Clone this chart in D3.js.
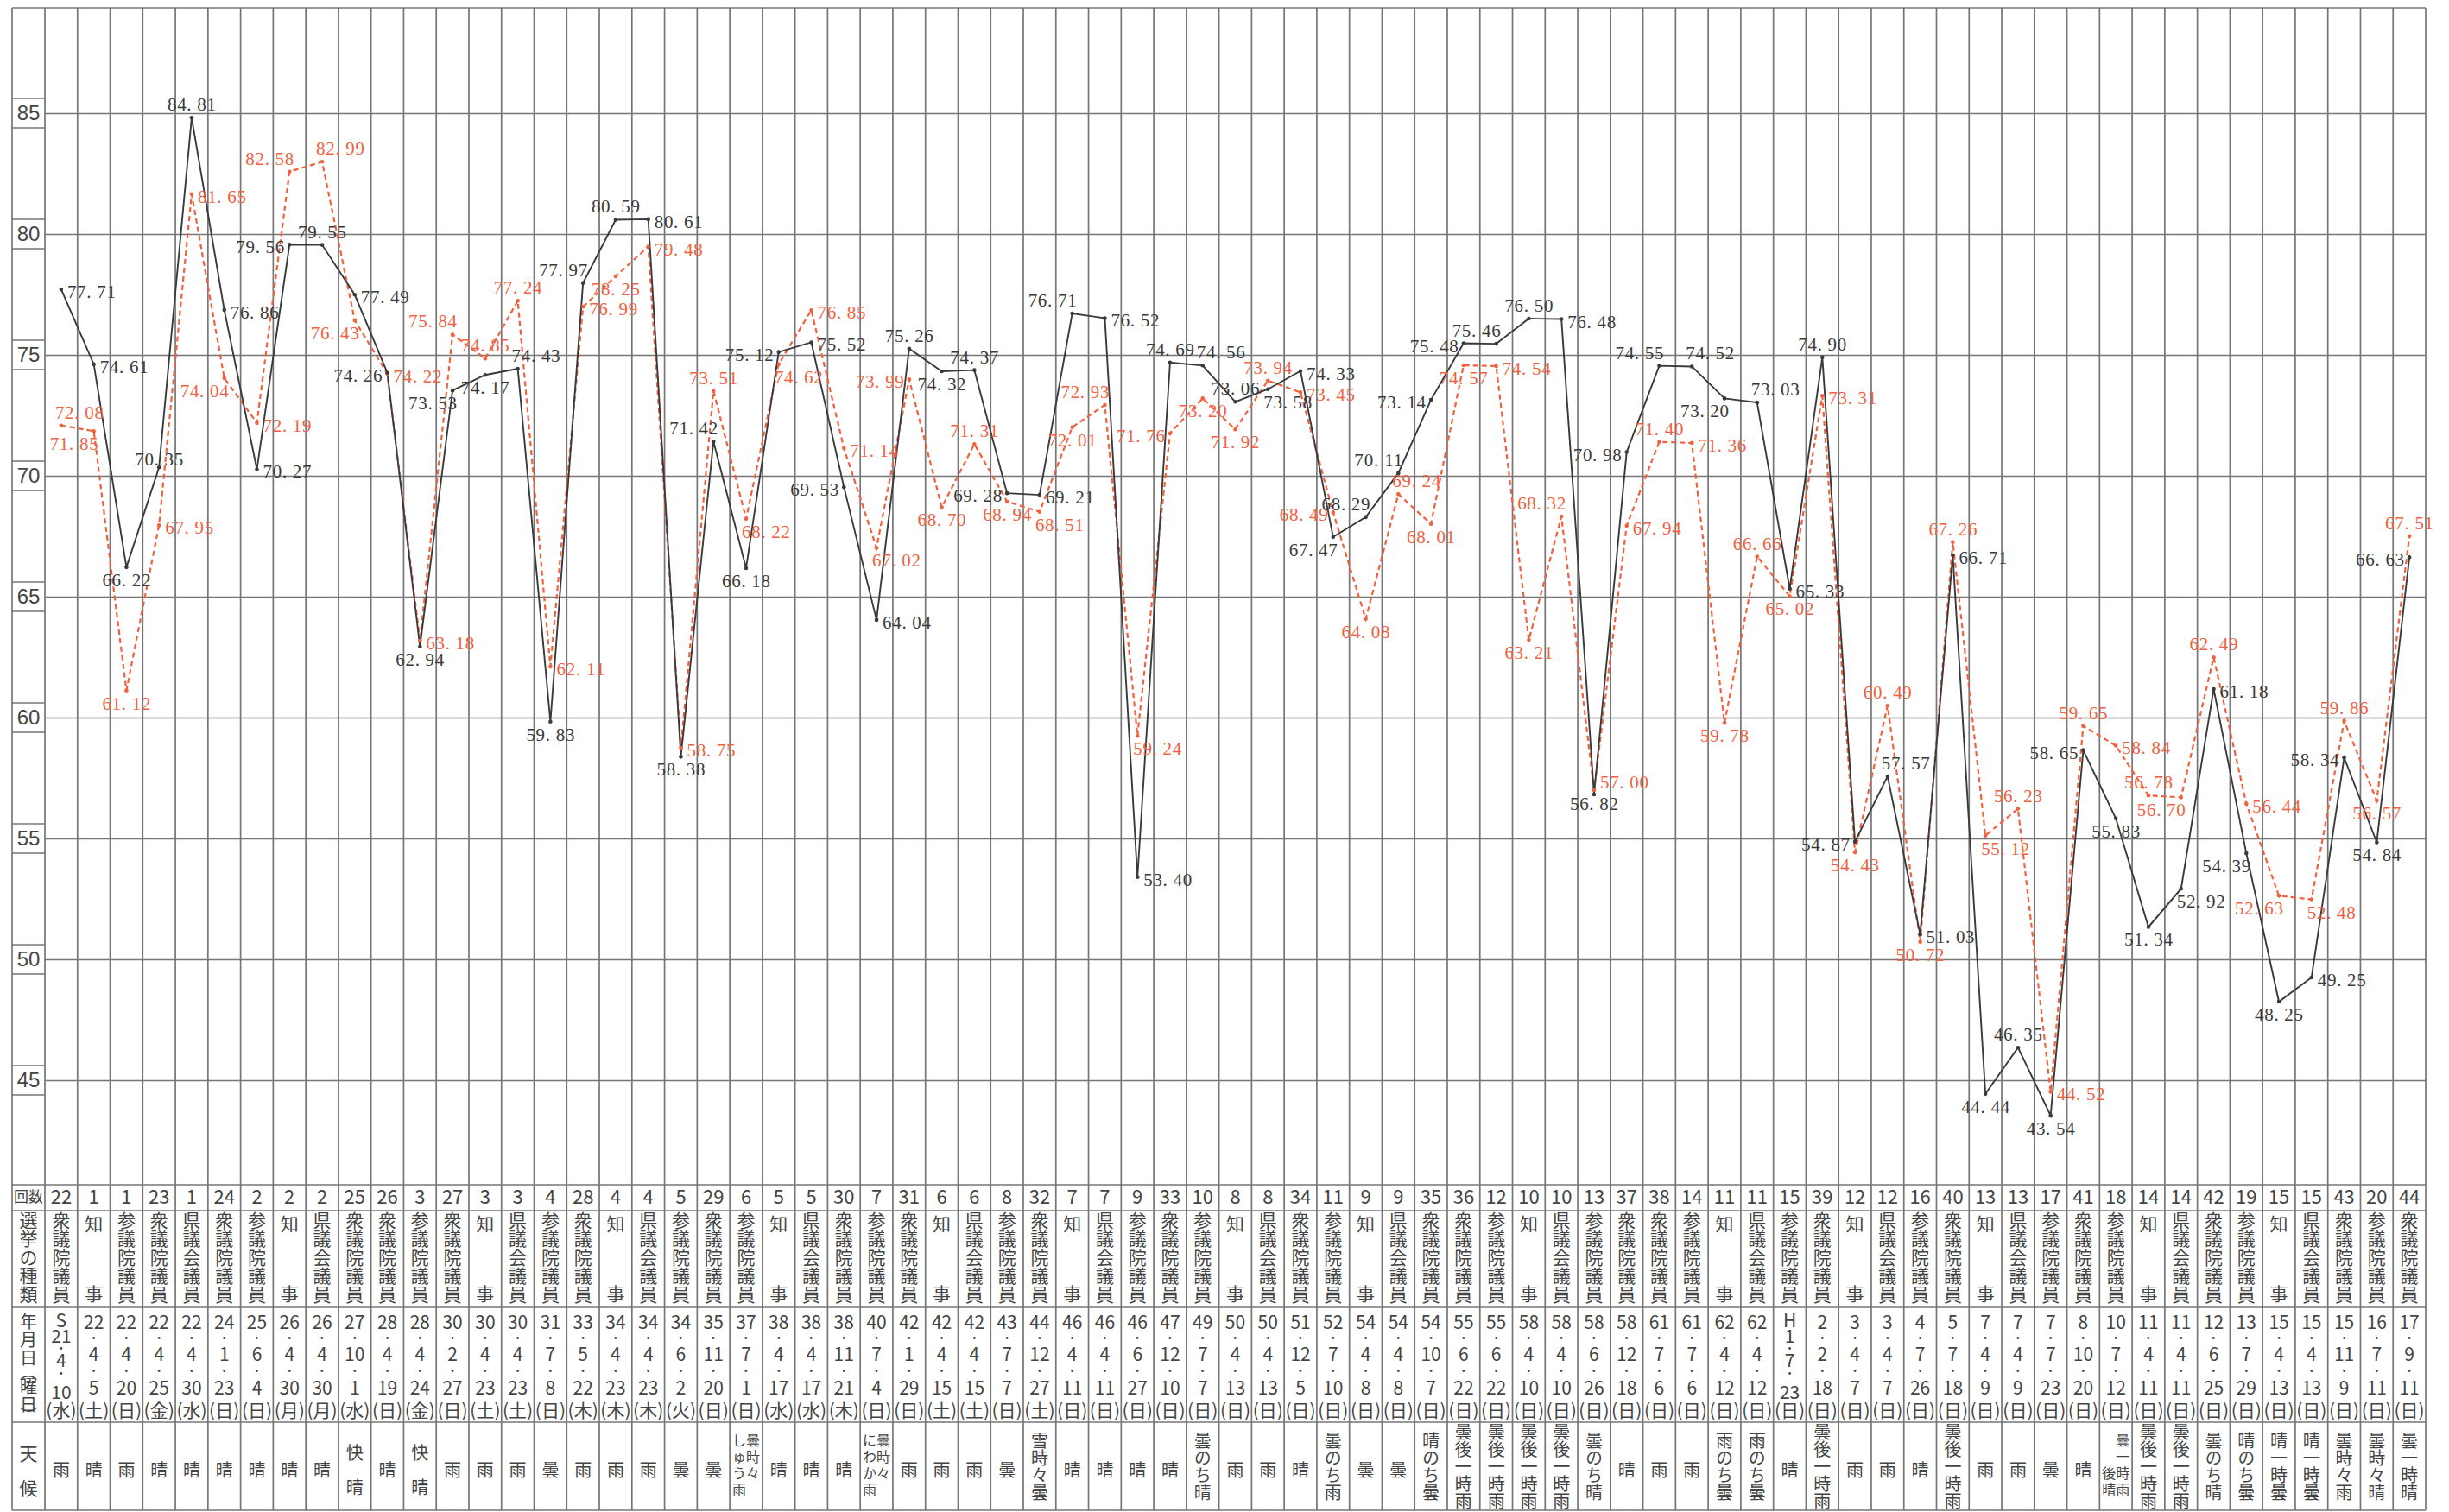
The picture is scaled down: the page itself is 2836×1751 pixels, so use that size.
<!DOCTYPE html>
<html><head><meta charset="utf-8">
<script src="https://cdn.jsdelivr.net/npm/d3@7"></script>
<style>html,body{margin:0;padding:0;background:#fff;} svg{display:block}</style>
</head><body>
<script>
// ---------------- data ----------------
const counts = [22,1,1,23,1,24,2,2,2,25,26,3,27,3,3,4,28,4,4,5,29,6,5,5,30,7,31,6,6,8,32,7,7,9,33,10,8,8,34,11,9,9,35,36,12,10,10,13,37,38,14,11,11,15,39,12,12,16,40,13,13,17,41,18,14,14,42,19,15,15,43,20,44];
const kinds = ["衆議院議員","知事","参議院議員","衆議院議員","県議会議員","衆議院議員","参議院議員","知事","県議会議員","衆議院議員",
 "衆議院議員","参議院議員","衆議院議員","知事","県議会議員","参議院議員","衆議院議員","知事","県議会議員","参議院議員",
 "衆議院議員","参議院議員","知事","県議会議員","衆議院議員","参議院議員","衆議院議員","知事","県議会議員","参議院議員",
 "衆議院議員","知事","県議会議員","参議院議員","衆議院議員","参議院議員","知事","県議会議員","衆議院議員","参議院議員",
 "知事","県議会議員","衆議院議員","衆議院議員","参議院議員","知事","県議会議員","参議院議員","衆議院議員","衆議院議員",
 "参議院議員","知事","県議会議員","参議院議員","衆議院議員","知事","県議会議員","参議院議員","衆議院議員","知事",
 "県議会議員","参議院議員","衆議院議員","参議院議員","知事","県議会議員","衆議院議員","参議院議員","知事","県議会議員",
 "衆議院議員","参議院議員","衆議院議員"];
const dates = ["S21.4.10","22.4.5","22.4.20","22.4.25","22.4.30","24.1.23","25.6.4","26.4.30","26.4.30","27.10.1",
 "28.4.19","28.4.24","30.2.27","30.4.23","30.4.23","31.7.8","33.5.22","34.4.23","34.4.23","34.6.2",
 "35.11.20","37.7.1","38.4.17","38.4.17","38.11.21","40.7.4","42.1.29","42.4.15","42.4.15","43.7.7",
 "44.12.27","46.4.11","46.4.11","46.6.27","47.12.10","49.7.7","50.4.13","50.4.13","51.12.5","52.7.10",
 "54.4.8","54.4.8","54.10.7","55.6.22","55.6.22","58.4.10","58.4.10","58.6.26","58.12.18","61.7.6",
 "61.7.6","62.4.12","62.4.12","H1.7.23","2.2.18","3.4.7","3.4.7","4.7.26","5.7.18","7.4.9",
 "7.4.9","7.7.23","8.10.20","10.7.12","11.4.11","11.4.11","12.6.25","13.7.29","15.4.13","15.4.13",
 "15.11.9","16.7.11","17.9.11"];
const weekdays = ["水","土","日","金","水","日","日","月","月","水","日","金","日","土","土","日","木","木","木","火",
 "日","日","水","水","木","日","日","土","土","日","土","日","日","日","日","日","日","日","日","日",
 "日","日","日","日","日","日","日","日","日","日","日","日","日","日","日","日","日","日","日","日",
 "日","日","日","日","日","日","日","日","日","日","日","日","日"];
const weather = ["雨","晴","雨","晴","晴","晴","晴","晴","晴","快晴","晴","快晴","雨","雨","雨","曇","雨","雨","雨","曇",
 "曇","曇時々|しゅう雨","晴","晴","晴","曇時々|にわか雨","雨","雨","雨","曇","雪時々曇","晴","晴","晴","晴","曇のち晴","雨","雨","晴","曇のち雨",
 "曇","曇","晴のち曇","曇後一時雨","曇後一時雨","曇後一時雨","曇後一時雨","曇のち晴","晴","雨","雨","雨のち曇","雨のち曇","晴","曇後一時雨","雨","雨","晴","曇後一時雨","雨",
 "雨","曇","晴","曇一時雨|後晴","曇後一時雨","曇後一時雨","曇のち晴","晴のち曇","晴一時曇","晴一時曇","曇時々雨","曇時々晴","曇一時晴"];
const turnoutBlack = [77.71,74.61,66.22,70.35,84.81,76.86,70.27,79.56,79.55,77.49,
 74.26,62.94,73.53,74.17,74.43,59.83,77.97,80.59,80.61,58.38,
 71.42,66.18,75.12,75.52,69.53,64.04,75.26,74.32,74.37,69.28,
 69.21,76.71,76.52,53.40,74.69,74.56,73.06,73.58,74.33,67.47,
 68.29,70.11,73.14,75.48,75.46,76.50,76.48,56.82,70.98,74.55,
 74.52,73.20,73.03,65.33,74.90,54.87,57.57,51.03,66.71,44.44,
 46.35,43.54,58.65,55.83,51.34,52.92,61.18,54.39,48.25,49.25,
 58.34,54.84,66.63];
const turnoutRed = [72.08,71.85,61.12,67.95,81.65,74.04,72.19,82.58,82.99,76.43,
 74.22,63.18,75.84,74.85,77.24,62.11,76.99,78.25,79.48,58.75,
 73.51,68.22,74.62,76.85,71.14,67.02,73.99,68.70,71.31,68.94,
 68.51,72.01,72.93,59.24,71.76,73.20,71.92,73.94,73.45,68.49,
 64.08,69.24,68.01,74.57,74.54,63.21,68.32,57.00,67.94,71.40,
 71.36,59.78,66.66,65.02,73.31,54.43,60.49,50.72,67.26,55.12,
 56.23,44.52,59.65,58.84,56.78,56.70,62.49,56.44,52.63,52.48,
 59.86,56.57,67.51];
const yTicks = [45,50,55,60,65,70,75,80,85];
// label placement hints (r=right, l=left, a=above, b=below, c=over, ru=right-up, bs=just below)
const blackLabelPos = ["r","r","b","c","a","r","r","l","a","r",
 "l","b","bl","b","ar","b","al","a","r","b",
 "al","b","l","r","l","r","a","b","a","l",
 "r","al","r","r","a","ar","a","br","r","bl",
 "al","al","l","l","al","a","r","bs","l","al",
 "ar","bl","ar","r","a","l","ar","r","r","b",
 "a","b","l","b","b","br","r","bl","b","r",
 "l","b","l"];
const redLabelPos = ["ar","bl","b","r","r","bl","r","al","ar","bl",
 "r","r","al","a","a","r","r","b","r","r",
 "a","br","br","r","r","br","l","b","a","b",
 "br","b","al","br","l","b","b","a","r","l",
 "b","ar","b","b","r","b","al","ru","r","a",
 "r","b","a","b","r","b","a","b","a","br",
 "a","r","a","r","a","bl","a","r","bl","br",
 "a","b","a"];

// ---------------- layout ----------------
const W = 2836, H = 1751;
const L0 = 14, L1 = 52, R = 2809, T = 9, B = 1749;
const rowY = [1372, 1402, 1514, 1647, 1749];
const gridColor = "#767676", inkBlack = "#3a3a3a", inkRed = "#f0623f";
const CJK = "'Noto Sans CJK JP', sans-serif";

const svg = d3.select("body").append("svg").attr("width", W).attr("height", H)
  .style("background", "#fff");

const x = d3.scaleBand().domain(d3.range(counts.length)).range([L1, R]);
const cx = i => x(i) + x.bandwidth() / 2;
const y = d3.scaleLinear().domain([45, 85]).range([1251, 131]);

// horizontal gridlines via axis
const gridAxis = d3.axisLeft(y).tickValues(yTicks).tickSize(-(R - L1)).tickFormat("");
const gg = svg.append("g").attr("transform", `translate(${L1},0)`).call(gridAxis);
gg.select(".domain").remove();
gg.selectAll(".tick line").attr("stroke", gridColor).attr("stroke-width", 1.4);

// tick label boxes
const boxes = svg.append("g");
yTicks.forEach(v => {
  [y(v) - 17, y(v) + 17].forEach(yy => boxes.append("line")
    .attr("x1", L0).attr("x2", L1).attr("y1", yy).attr("y2", yy)
    .attr("stroke", gridColor).attr("stroke-width", 1.4));
});
const tickAxis = d3.axisLeft(y).tickValues(yTicks).tickSize(0).tickPadding(0);
const ta = svg.append("g").attr("transform", `translate(${(L0 + L1) / 2},0)`).call(tickAxis);
ta.select(".domain").remove();
ta.selectAll(".tick text").attr("text-anchor", "middle").attr("dx", 0)
  .attr("font-family", "'Liberation Sans', Arial, sans-serif").attr("font-size", 24)
  .attr("fill", "#454545");

// vertical lines
const vx = d3.range(counts.length).map(i => x(i)).concat([R]);
svg.append("g").selectAll("line").data(vx).join("line")
  .attr("x1", d => d).attr("x2", d => d).attr("y1", T).attr("y2", B)
  .attr("stroke", gridColor).attr("stroke-width", 1.7);
// borders
svg.append("line").attr("x1", L0).attr("x2", L0).attr("y1", T).attr("y2", B).attr("stroke", gridColor).attr("stroke-width", 1.7);
svg.append("line").attr("x1", L0).attr("x2", R).attr("y1", T).attr("y2", T).attr("stroke", gridColor).attr("stroke-width", 1.7);
svg.append("g").selectAll("line").data(rowY).join("line")
  .attr("x1", L0).attr("x2", R).attr("y1", d => d).attr("y2", d => d)
  .attr("stroke", gridColor).attr("stroke-width", 1.7);

// ---------------- series ----------------
const line = d3.line().x((d, i) => cx(i)).y(d => y(d));
svg.append("path").datum(turnoutRed).attr("d", line).attr("fill", "none")
  .attr("stroke", inkRed).attr("stroke-width", 2.2).attr("stroke-dasharray", "6,4");
svg.append("path").datum(turnoutBlack).attr("d", line).attr("fill", "none")
  .attr("stroke", inkBlack).attr("stroke-width", 1.9);
svg.append("g").selectAll("circle").data(turnoutRed).join("circle")
  .attr("cx", (d, i) => cx(i)).attr("cy", d => y(d)).attr("r", 2.3).attr("fill", inkRed);
svg.append("g").selectAll("circle").data(turnoutBlack).join("circle")
  .attr("cx", (d, i) => cx(i)).attr("cy", d => y(d)).attr("r", 2.3).attr("fill", inkBlack);

function place(code, px, py) {
  switch (code) {
    case "r": return [px + 7, py + 3, "start"];
    case "ru": return [px + 7, py - 9, "start"];
    case "l": return [px - 6, py + 3, "end"];
    case "a": return [px, py - 15, "middle"];
    case "b": return [px, py + 15, "middle"];
    case "bs": return [px, py + 11, "middle"];
    case "ar": return [px - 7, py - 15, "start"];
    case "al": return [px + 5, py - 15, "end"];
    case "br": return [px - 5, py + 15, "start"];
    case "bl": return [px + 5, py + 15, "end"];
    default: return [px, py - 9, "middle"];
  }
}
function labels(vals, codes, color) {
  const g = svg.append("g").attr("font-family", "'Liberation Serif', 'DejaVu Serif', serif")
    .attr("font-size", 21).attr("fill", color);
  vals.forEach((v, i) => {
    const [tx, ty, anchor] = place(codes[i], cx(i), y(v));
    g.append("text").attr("x", tx).attr("y", ty + 7).attr("text-anchor", anchor)
      .attr("textLength", 56).attr("lengthAdjust", "spacing")
      .text(v.toFixed(2).replace(".", ". "));
  });
}
labels(turnoutRed, redLabelPos, inkRed);
labels(turnoutBlack, blackLabelPos, inkBlack);

// ---------------- table ----------------
const tb = svg.append("g").attr("font-family", CJK).attr("fill", "#444");
const LC = (L0 + L1) / 2;
const ctx = document.createElement("canvas").getContext("2d");
function widths(str, size) {
  ctx.font = `${size}px ${CJK}`;
  return [...str].map(c => ctx.measureText(c).width);
}
// horizontal glyphs placed by x/y lists inside one <text>; lines = [{t, y, x}]
function cell(xx, lines, size) {
  const chars = [], xs = [], ys = [];
  lines.forEach(l => {
    const ws = widths(l.t, size);
    const tot = d3.sum(ws);
    let px = (l.x !== undefined ? l.x : xx) - tot / 2;
    [...l.t].forEach((c, k) => {
      chars.push(c); xs.push(px.toFixed(1)); ys.push((l.y + size * 0.37).toFixed(1));
      px += ws[k];
    });
  });
  tb.append("text").attr("font-size", size).attr("x", xs.join(" ")).attr("y", ys.join(" "))
    .text(chars.join(""));
}
// vertical (tategaki) run: first glyph centred at yc0, pitch p
function vrun(xx, str, yc0, size, p) {
  tb.append("text").attr("x", xx).attr("y", yc0 - size / 2)
    .style("writing-mode", "vertical-rl").attr("font-size", size)
    .attr("letter-spacing", p - size).text(str);
}
const stack = (chars, ys, xx) => chars.map((c, k) => ({ t: c, y: ys[k], x: xx }));

// row headers
cell(LC, [{ t: "回数", y: 1386 }], 17);
vrun(LC, "選挙の種類", 1413, 21, 21.5);
cell(LC, stack(["年", "月", "日", "︵", "曜", "日", "︶"], [1531, 1552, 1573, 1590, 1606, 1627, 1640]), 20);
vrun(LC, "天", 1683, 21, 21);
vrun(LC, "候", 1723, 21, 21);

// counts
counts.forEach((d, i) => cell(cx(i), [{ t: String(d), y: 1386 }], 22));

// kinds
kinds.forEach((k, i) => {
  if ([...k].length === 2) { vrun(cx(i), k[0], 1417, 21, 21); vrun(cx(i), k[1], 1498, 21, 21); }
  else vrun(cx(i), k, 1413, 21, 21.5);
});

// dates
dates.forEach((d, i) => {
  const m = d.match(/^([A-Z]?)(\d+)\.(\d+)\.(\d+)$/);
  const wd = "(" + weekdays[i] + ")";
  let items;
  if (m[1]) {
    items = [[m[1], 1529], [m[2], 1547], ["·", 1561], [m[3], 1575], ["·", 1590], [m[4], 1612]];
  } else {
    items = [[m[2], 1531], ["·", 1549], [m[3], 1568], ["·", 1587], [m[4], 1607]];
  }
  const lines = items.map(([t, yy]) => ({ t, y: yy }));
  lines.push({ t: wd, y: 1633 });
  cell(cx(i), lines, 21);
});

// weather
weather.forEach((w, i) => {
  const xc = cx(i);
  if (w.includes("|")) {
    const [rc, lc] = w.split("|").map(s => [...s]);
    const p = 19, top = 1668;
    const n = Math.max(rc.length, lc.length);
    const ysR = rc.map((c, k) => top + k * p);
    const ysL = lc.length >= rc.length ? lc.map((c, k) => top + k * p)
      : lc.map((c, k) => top + (n - lc.length + k) * p);
    cell(xc, stack(rc, ysR, xc + 8).concat(stack(lc, ysL, xc - 8)), 16);
  } else {
    const ch = [...w];
    if (ch.length === 1) vrun(xc, w, 1702, 20, 20);
    else if (ch.length === 2) { vrun(xc, ch[0], 1682, 20, 20); vrun(xc, ch[1], 1722, 20, 20); }
    else vrun(xc, w, 1698 - (ch.length - 1) * 10, 20, 20);
  }
});
</script>
</body></html>
